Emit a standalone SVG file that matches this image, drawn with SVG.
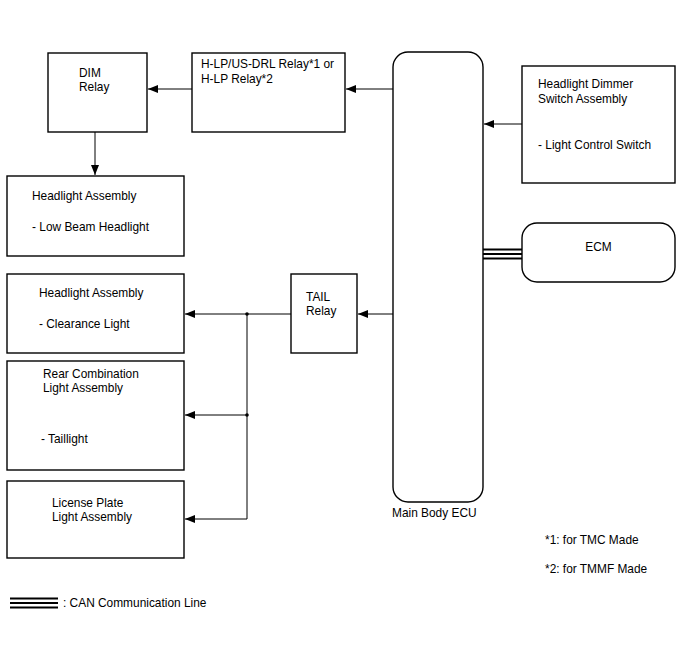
<svg xmlns="http://www.w3.org/2000/svg" width="688" height="658" viewBox="0 0 688 658">
<style>
text{font-family:"Liberation Sans",Arial,sans-serif;font-size:11.9px;fill:#000}
.box{fill:#fff;stroke:#000;stroke-width:1.4}
.ln{fill:none;stroke:#000;stroke-width:1}
.can{fill:none;stroke:#000;stroke-width:2}
</style>
<defs>
<marker id="ah" viewBox="0 0 10 8" refX="10" refY="4" markerWidth="10" markerHeight="8" markerUnits="userSpaceOnUse" orient="auto">
<path d="M0,0 L10,4 L0,8 Z" fill="#000"/>
</marker>
</defs>
<rect width="688" height="658" fill="#fff"/>
<g id="connectors">
<line class="ln" x1="192" y1="89" x2="148" y2="89" marker-end="url(#ah)"/>
<line class="ln" x1="95" y1="132" x2="95" y2="175" marker-end="url(#ah)"/>
<line class="ln" x1="393" y1="89" x2="346" y2="89" marker-end="url(#ah)"/>
<line class="ln" x1="522" y1="124" x2="484" y2="124" marker-end="url(#ah)"/>
<line class="ln" x1="393" y1="314" x2="358" y2="314" marker-end="url(#ah)"/>
<line class="ln" x1="291" y1="314" x2="185" y2="314" marker-end="url(#ah)"/>
<polyline class="ln" points="247,314 247,519 185,519" marker-end="url(#ah)"/>
<line class="ln" x1="247" y1="415" x2="185" y2="415" marker-end="url(#ah)"/>
<circle cx="247" cy="314" r="1.8" fill="#000"/>
<circle cx="247" cy="415" r="1.8" fill="#000"/>
<line class="can" x1="483" y1="249.5" x2="522" y2="249.5"/>
<line class="can" x1="483" y1="254" x2="522" y2="254"/>
<line class="can" x1="483" y1="258.5" x2="522" y2="258.5"/>
</g>
<g id="dim-relay">
<rect class="box" x="48" y="53" width="99" height="79"/>
<text x="79" y="77">DIM</text>
<text x="79" y="91">Relay</text>
</g>
<g id="hlp-relay">
<rect class="box" x="192" y="53" width="153" height="79"/>
<text x="201" y="68">H-LP/US-DRL Relay*1 or</text>
<text x="201" y="83">H-LP Relay*2</text>
</g>
<g id="headlight-low">
<rect class="box" x="7" y="176" width="177" height="80"/>
<text x="32" y="200">Headlight Assembly</text>
<text x="32" y="231">- Low Beam Headlight</text>
</g>
<g id="main-body-ecu">
<rect class="box" x="393" y="52" width="90" height="450" rx="15" ry="15"/>
<text x="392" y="517">Main Body ECU</text>
</g>
<g id="dimmer-switch">
<rect class="box" x="522" y="66" width="153" height="117"/>
<text x="538" y="88">Headlight Dimmer</text>
<text x="538" y="103">Switch Assembly</text>
<text x="538" y="149">- Light Control Switch</text>
</g>
<g id="ecm">
<rect class="box" x="522" y="223" width="153" height="59" rx="15" ry="15"/>
<text x="598.5" y="251" text-anchor="middle">ECM</text>
</g>
<g id="tail-relay">
<rect class="box" x="291" y="274" width="66" height="79"/>
<text x="306" y="301">TAIL</text>
<text x="306" y="315">Relay</text>
</g>
<g id="headlight-clearance">
<rect class="box" x="7" y="274" width="177" height="79"/>
<text x="39" y="297">Headlight Assembly</text>
<text x="39" y="328">- Clearance Light</text>
</g>
<g id="rear-combination">
<rect class="box" x="7" y="361" width="177" height="109"/>
<text x="43" y="378">Rear Combination</text>
<text x="43" y="392">Light Assembly</text>
<text x="41" y="443">- Taillight</text>
</g>
<g id="license-plate">
<rect class="box" x="7" y="481" width="177" height="77"/>
<text x="52" y="507">License Plate</text>
<text x="52" y="521">Light Assembly</text>
</g>
<g id="notes">
<text x="545" y="544">*1: for TMC Made</text>
<text x="545" y="573">*2: for TMMF Made</text>
</g>
<g id="legend">
<line class="can" x1="10" y1="598.5" x2="58" y2="598.5"/>
<line class="can" x1="10" y1="603" x2="58" y2="603"/>
<line class="can" x1="10" y1="607.5" x2="58" y2="607.5"/>
<text x="63" y="607">: CAN Communication Line</text>
</g>
</svg>
